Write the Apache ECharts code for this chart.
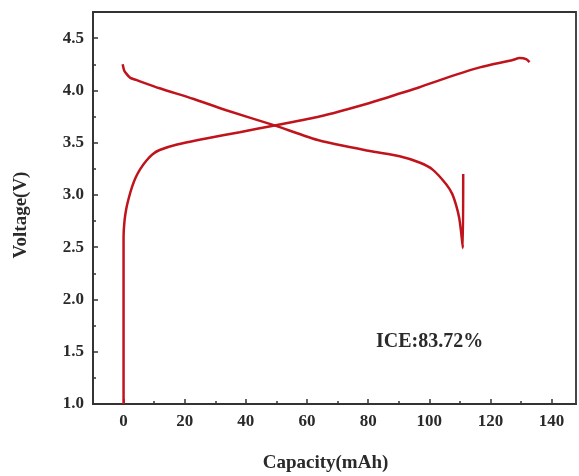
<!DOCTYPE html>
<html>
<head>
<meta charset="utf-8">
<script src="https://cdn.jsdelivr.net/npm/echarts@6/dist/echarts.min.js"></script>
<style>
  html, body { margin: 0; padding: 0; background: #fff; }
  #chart { width: 579px; height: 476px; }
</style>
</head>
<body>
<div id="chart"></div>
<script>
// First charge curve: capacity (mAh) vs voltage (V)
const chargeCap = [0, 0, 0, 0.3, 0.9, 1.8, 2.8, 4.0, 5.5, 7.5, 9.5, 11.8, 17.2, 27, 38, 49.4, 64.1, 80.5, 90.3, 96.8, 105.6, 116.5, 127.3, 129.5, 131.7, 132.8];
const chargeV   = [1.0, 2.0, 2.6, 2.75, 2.87, 2.98, 3.08, 3.17, 3.25, 3.33, 3.39, 3.43, 3.48, 3.54, 3.60, 3.665, 3.75, 3.88, 3.97, 4.03, 4.12, 4.22, 4.29, 4.31, 4.30, 4.27];

// First discharge curve
const dischargeCap = [-0.3, 0.2, 0.9, 2.2, 4.1, 11.8, 22.7, 33.6, 49.4, 64.1, 80.5, 90.3, 96.8, 101.2, 105.6, 107.5, 108.8, 109.8, 110.4, 111.0, 111.1];
const dischargeV   = [4.25, 4.19, 4.16, 4.12, 4.10, 4.02, 3.92, 3.81, 3.665, 3.52, 3.42, 3.37, 3.31, 3.24, 3.10, 3.01, 2.90, 2.78, 2.65, 2.49, 3.20];

// Axis ticks
const xMajorTicks = [0, 20, 40, 60, 80, 100, 120, 140];
const xMinorTicks = [10, 30, 50, 70, 90, 110, 130];
const yMajorTicks = [1.0, 1.5, 2.0, 2.5, 3.0, 3.5, 4.0, 4.5];
const yMinorTicks = [1.25, 1.75, 2.25, 2.75, 3.25, 3.75, 4.25];

const annotation = 'ICE:83.72%';

const pairs = (xs, ys) => xs.map((x, i) => [x, ys[i]]);

const FONT = '"Liberation Serif", "DejaVu Serif", serif';
const AXIS_COLOR = '#333';
const TEXT_COLOR = '#2a2a2a';
const LINE_COLOR = '#c0141c';

const chart = echarts.init(document.getElementById('chart'), null, { renderer: 'canvas' });

const axisLine = { show: true, onZero: false, lineStyle: { color: AXIS_COLOR, width: 1.8 } };
const tickStyle = { color: AXIS_COLOR, width: 1.5 };
const labelFont = { fontFamily: FONT, fontSize: 17, fontWeight: 'bold', color: TEXT_COLOR };
const nameFont = { fontFamily: FONT, fontSize: 19, fontWeight: 'bold', color: TEXT_COLOR };

chart.setOption({
  animation: false,
  backgroundColor: '#fff',
  grid: {
    left: 93, top: 12, right: 3, bottom: 72,
    containLabel: false,
    outerBoundsMode: 'none',
    show: true,
    borderColor: AXIS_COLOR,
    borderWidth: 1.8,
    backgroundColor: 'transparent'
  },
  xAxis: [
    {
      type: 'value', min: -10, max: 148,
      axisLine: axisLine,
      splitLine: { show: false },
      axisTick: { show: true, inside: true, length: 5, lineStyle: tickStyle, customValues: xMajorTicks },
      axisLabel: Object.assign({ customValues: xMajorTicks, margin: 9 }, labelFont),
      name: 'Capacity(mAh)', nameLocation: 'middle', nameGap: 50,
      nameTextStyle: Object.assign({ padding: [0, 18, 0, 0] }, nameFont)
    },
    {
      type: 'value', min: -10, max: 148, position: 'bottom',
      axisLine: { show: false, onZero: false },
      splitLine: { show: false },
      axisLabel: { show: false },
      axisTick: { show: true, inside: true, length: 3, lineStyle: tickStyle, customValues: xMinorTicks }
    }
  ],
  yAxis: [
    {
      type: 'value', min: 1.0, max: 4.75,
      axisLine: axisLine,
      splitLine: { show: false },
      axisTick: { show: true, inside: true, length: 5, lineStyle: tickStyle, customValues: yMajorTicks },
      axisLabel: Object.assign({ customValues: yMajorTicks, formatter: v => v.toFixed(1), margin: 9 }, labelFont),
      name: 'Voltage(V)', nameLocation: 'middle', nameGap: 62,
      nameTextStyle: Object.assign({ padding: [0, 14, 0, 0] }, nameFont)
    },
    {
      type: 'value', min: 1.0, max: 4.75, position: 'left',
      axisLine: { show: false, onZero: false },
      splitLine: { show: false },
      axisLabel: { show: false },
      axisTick: { show: true, inside: true, length: 3, lineStyle: tickStyle, customValues: yMinorTicks }
    }
  ],
  graphic: [
    {
      type: 'text', left: 376, top: 332,
      style: { text: annotation, fontFamily: FONT, fontSize: 20, fontWeight: 'bold', fill: TEXT_COLOR }
    }
  ],
  series: [
    {
      name: 'Charge', type: 'line', xAxisIndex: 0, yAxisIndex: 0,
      data: pairs(chargeCap, chargeV),
      showSymbol: false, smooth: 0.2,
      lineStyle: { color: LINE_COLOR, width: 2.5 }
    },
    {
      name: 'Discharge', type: 'line', xAxisIndex: 0, yAxisIndex: 0,
      data: pairs(dischargeCap, dischargeV),
      showSymbol: false, smooth: 0.2,
      lineStyle: { color: LINE_COLOR, width: 2.5 }
    }
  ]
});
</script>
</body>
</html>
